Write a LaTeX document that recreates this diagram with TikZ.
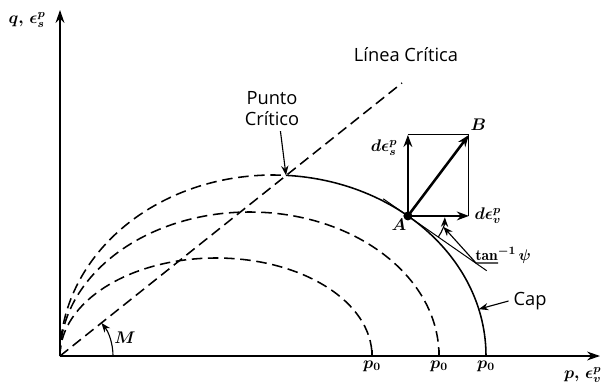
\documentclass[tikz,border=0pt]{standalone}
\usepackage{amsmath,amssymb,bm}
\usepackage{fontspec}
\newfontfamily\rotfont{Open Sans}
\usepackage{tikz}
\usetikzlibrary{arrows.meta,positioning,calc}
\tikzset{
  eje/.style={line width=1.4pt,-{Stealth[length=3.2mm,width=2.2mm]}},
  curva/.style={line width=1.1pt,dash pattern=on 7.5pt off 4pt},
  flecha/.style={line width=1.8pt,-{Stealth[length=3mm,width=2.2mm]}},
  fino/.style={line width=0.7pt},
  guia/.style={line width=0.8pt,-{Stealth[length=2.4mm,width=1.8mm]}},
  mlbl/.style={font=\fontsize{12}{14}\selectfont,inner sep=1pt},
}

\begin{document}
\begin{tikzpicture}[x=0.025cm,y=0.025cm,font=\rotfont\fontsize{13}{15}\selectfont]
\useasboundingbox (-60,-32) rectangle (543,356);
\coordinate (O) at (0,0);
\coordinate (qtop) at (0,346);
\coordinate (pend) at (540,0);
\coordinate (C) at ($(213,0)+(86.5:213 and 181)$);
\coordinate (A) at ($(213,0)+(50.7:213 and 181)$);
\coordinate (B) at ($(A)+(61,81)$);
\coordinate (Ev) at ($(A)+(61,0)$);
\coordinate (Es) at ($(A)+(0,81)$);
\coordinate (Lend) at (342,273);
\coordinate (T1) at ($(A)+(145.2:30)$);
\coordinate (T2) at ($(A)+(-34.8:96)$);
\coordinate (Pm) at ($(A)+(-17:37)$);
\coordinate (K) at ($(213,0)+(15:213 and 181)$);
% superficies de fluencia
\draw[curva] (O) arc[start angle=180,end angle=0,x radius=156,y radius=98] coordinate (p1);
\draw[curva] (O) arc[start angle=180,end angle=0,x radius=189.5,y radius=144] coordinate (p2);
\draw[curva] (O) arc[start angle=180,end angle=86.5,x radius=213,y radius=181];
\draw[line width=1.1pt] (C) arc[start angle=86.5,end angle=0,x radius=213,y radius=181] coordinate (p3);
\draw[line width=1.4pt] (p1) -- ++(0,6); \draw[line width=1.4pt] (p2) -- ++(0,6);
% ejes
\draw[eje] (O) -- (qtop);
\draw[eje] (O) -- (pend);
\node[mlbl] (qlab) at (-33,336) {$\boldsymbol{q,\,\epsilon^p_s}$};
\node[mlbl,anchor=north east] (plab) at ($(pend)+(3,-10)$) {$\boldsymbol{p,\,\epsilon^p_v}$};
\node[mlbl,below=2pt] (p0a) at (p1) {$\boldsymbol{p_0}$};
\node[mlbl,below=2pt] (p0b) at (p2) {$\boldsymbol{p_0}$};
\node[mlbl,below=2pt] (p0c) at (p3) {$\boldsymbol{p_0}$};
% linea critica
\draw[curva] (O) -- (Lend);
\node (linea) at (346,301) {Línea Crítica};
\node[align=center] (punto) at (212,247) {Punto\\Crítico};
\draw[guia] ([xshift=6pt]punto.south) -- (C);
\draw[guia] (53,0) arc[start angle=0,end angle=38.6,radius=53];
\node[mlbl] (M) at (65,18) {$\boldsymbol{M}$};
% incrementos plasticos
\draw[fino] (T1) -- (T2);
\draw[fino] (Es) -- (B) -- (Ev);
\draw[flecha] (A) -- (Es);
\draw[flecha] (A) -- (Ev);
\draw[flecha] (A) -- (B);
\fill (A) circle (4.5);
\node[mlbl,below left=1pt and 0pt] (Alab) at (A) {$\boldsymbol{A}$};
\node[mlbl,above right=2pt and 0pt] (Blab) at (B) {$\boldsymbol{B}$};
\node[mlbl,anchor=north east] (eslab) at ($(Es)+(-9,-3)$) {$\boldsymbol{d\epsilon^p_s}$};
\node[mlbl,anchor=west] (evlab) at ($(Ev)+(4,0)$) {$\boldsymbol{d\epsilon^p_v}$};
\draw[guia] ($(A)+(-34.8:37)$) arc[start angle=-34.8,end angle=-2,radius=37];
\node[mlbl,anchor=base west,font=\fontsize{11}{13}\selectfont] (tanlab) at (414,96) {$\mathbf{tan}^{\boldsymbol{-1}}\,\boldsymbol{\psi}$};
\draw[guia] ($(tanlab.base west)+(24,-3)$) -- ($(tanlab.base west)+(2,-3)$) -- (Pm);
\node (cap) at (470,55) {Cap};
\draw[guia] (cap.west) -- (K);
\end{tikzpicture}
\end{document}
